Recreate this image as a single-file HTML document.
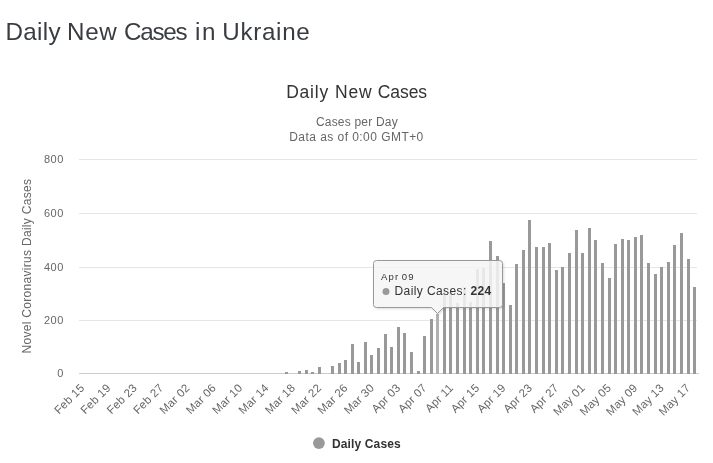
<!DOCTYPE html>
<html><head><meta charset="utf-8"><style>
html,body{margin:0;padding:0;background:#fff;}
body{width:713px;height:463px;overflow:hidden;position:relative;}
svg{position:absolute;left:0;top:0;will-change:transform;}
text{font-family:"Liberation Sans",sans-serif;}
</style></head><body>
<svg width="713" height="463" viewBox="0 0 713 463">
<text x="5.4" y="39.7" font-size="24.2" fill="#393d42" letter-spacing="0.375">Daily</text>
<text x="67.1" y="39.7" font-size="24.2" fill="#393d42" letter-spacing="0.65">New</text>
<text x="124.1" y="39.7" font-size="24.2" fill="#393d42" letter-spacing="-1.25">Cases</text>
<text x="195.1" y="39.7" font-size="24.2" fill="#393d42" letter-spacing="1.5">in</text>
<text x="222.3" y="39.7" font-size="24.2" fill="#393d42" letter-spacing="0.683">Ukraine</text>
<text x="286.2" y="98.0" font-size="17.5" fill="#333" letter-spacing="0.775">Daily</text>
<text x="335.1" y="98.0" font-size="17.5" fill="#333" letter-spacing="0.8">New</text>
<text x="377.8" y="98.0" font-size="17.5" fill="#333" letter-spacing="-0.075">Cases</text>
<text x="356.9" y="126.2" font-size="12" fill="#666" text-anchor="middle" letter-spacing="0.2">Cases per Day</text>
<text x="356.5" y="141.0" font-size="12" fill="#666" text-anchor="middle" letter-spacing="0.45">Data as of 0:00 GMT+0</text>
<g stroke="#e6e6e6" stroke-width="1" shape-rendering="crispEdges">
<line x1="79" y1="159.5" x2="697" y2="159.5"/>
<line x1="79" y1="213.5" x2="697" y2="213.5"/>
<line x1="79" y1="267.5" x2="697" y2="267.5"/>
<line x1="79" y1="320.5" x2="697" y2="320.5"/>
</g>
<g font-size="11" fill="#666" text-anchor="end" letter-spacing="0.5">
<text x="63.8" y="163.0">800</text>
<text x="63.8" y="216.8">600</text>
<text x="63.8" y="270.8">400</text>
<text x="63.8" y="323.8">200</text>
<text x="63.8" y="376.8">0</text>
</g>
<text x="31" y="266.1" font-size="12" fill="#666" text-anchor="middle" letter-spacing="0.3" transform="rotate(-90 31 266.1)">Novel Coronavirus Daily Cases</text>
<line x1="79" y1="373.5" x2="699" y2="373.5" stroke="#ccc" stroke-width="1" shape-rendering="crispEdges"/>
<g fill="#999" shape-rendering="crispEdges">
<rect x="285" y="372" width="3" height="2"/>
<rect x="298" y="371" width="3" height="3"/>
<rect x="305" y="370" width="3" height="4"/>
<rect x="311" y="372" width="3" height="2"/>
<rect x="318" y="367" width="3" height="7"/>
<rect x="331" y="366" width="3" height="8"/>
<rect x="338" y="363" width="3" height="11"/>
<rect x="344" y="360" width="3" height="14"/>
<rect x="351" y="344" width="3" height="30"/>
<rect x="357" y="362" width="3" height="12"/>
<rect x="364" y="342" width="3" height="32"/>
<rect x="370" y="355" width="3" height="19"/>
<rect x="377" y="348" width="3" height="26"/>
<rect x="384" y="334" width="3" height="40"/>
<rect x="390" y="347" width="3" height="27"/>
<rect x="397" y="327" width="3" height="47"/>
<rect x="403" y="333" width="3" height="41"/>
<rect x="410" y="352" width="3" height="22"/>
<rect x="417" y="371" width="3" height="3"/>
<rect x="423" y="336" width="3" height="38"/>
<rect x="430" y="319" width="3" height="55"/>
<rect x="436" y="314" width="3" height="60" fill="#b0b0b0"/>
<rect x="443" y="291" width="3" height="83"/>
<rect x="449" y="292" width="3" height="82"/>
<rect x="456" y="303" width="3" height="71"/>
<rect x="463" y="287" width="3" height="87"/>
<rect x="469" y="302" width="3" height="72"/>
<rect x="476" y="269" width="3" height="105"/>
<rect x="482" y="268" width="3" height="106"/>
<rect x="489" y="241" width="3" height="133"/>
<rect x="496" y="256" width="3" height="118"/>
<rect x="502" y="283" width="3" height="91"/>
<rect x="509" y="305" width="3" height="69"/>
<rect x="515" y="264" width="3" height="110"/>
<rect x="522" y="250" width="3" height="124"/>
<rect x="528" y="220" width="3" height="154"/>
<rect x="535" y="247" width="3" height="127"/>
<rect x="542" y="247" width="3" height="127"/>
<rect x="548" y="243" width="3" height="131"/>
<rect x="555" y="270" width="3" height="104"/>
<rect x="561" y="267" width="3" height="107"/>
<rect x="568" y="253" width="3" height="121"/>
<rect x="575" y="230" width="3" height="144"/>
<rect x="581" y="253" width="3" height="121"/>
<rect x="588" y="228" width="3" height="146"/>
<rect x="594" y="240" width="3" height="134"/>
<rect x="601" y="263" width="3" height="111"/>
<rect x="608" y="278" width="3" height="96"/>
<rect x="614" y="244" width="3" height="130"/>
<rect x="621" y="239" width="3" height="135"/>
<rect x="627" y="240" width="3" height="134"/>
<rect x="634" y="237" width="3" height="137"/>
<rect x="640" y="235" width="3" height="139"/>
<rect x="647" y="263" width="3" height="111"/>
<rect x="654" y="274" width="3" height="100"/>
<rect x="660" y="267" width="3" height="107"/>
<rect x="667" y="262" width="3" height="112"/>
<rect x="673" y="245" width="3" height="129"/>
<rect x="680" y="233" width="3" height="141"/>
<rect x="687" y="259" width="3" height="115"/>
<rect x="693" y="287" width="3" height="87"/>
</g>
<g font-size="11.5" fill="#666" letter-spacing="0.2">
<text x="85.11" y="388.7" text-anchor="end" transform="rotate(-45 85.11 388.7)">Feb 15</text>
<text x="111.45" y="388.7" text-anchor="end" transform="rotate(-45 111.45 388.7)">Feb 19</text>
<text x="137.79" y="388.7" text-anchor="end" transform="rotate(-45 137.79 388.7)">Feb 23</text>
<text x="164.13" y="388.7" text-anchor="end" transform="rotate(-45 164.13 388.7)">Feb 27</text>
<text x="190.47" y="388.7" text-anchor="end" transform="rotate(-45 190.47 388.7)">Mar 02</text>
<text x="216.81" y="388.7" text-anchor="end" transform="rotate(-45 216.81 388.7)">Mar 06</text>
<text x="243.15" y="388.7" text-anchor="end" transform="rotate(-45 243.15 388.7)">Mar 10</text>
<text x="269.49" y="388.7" text-anchor="end" transform="rotate(-45 269.49 388.7)">Mar 14</text>
<text x="295.83" y="388.7" text-anchor="end" transform="rotate(-45 295.83 388.7)">Mar 18</text>
<text x="322.17" y="388.7" text-anchor="end" transform="rotate(-45 322.17 388.7)">Mar 22</text>
<text x="348.51" y="388.7" text-anchor="end" transform="rotate(-45 348.51 388.7)">Mar 26</text>
<text x="374.85" y="388.7" text-anchor="end" transform="rotate(-45 374.85 388.7)">Mar 30</text>
<text x="401.19" y="388.7" text-anchor="end" transform="rotate(-45 401.19 388.7)">Apr 03</text>
<text x="427.53" y="388.7" text-anchor="end" transform="rotate(-45 427.53 388.7)">Apr 07</text>
<text x="453.87" y="388.7" text-anchor="end" transform="rotate(-45 453.87 388.7)">Apr 11</text>
<text x="480.21" y="388.7" text-anchor="end" transform="rotate(-45 480.21 388.7)">Apr 15</text>
<text x="506.55" y="388.7" text-anchor="end" transform="rotate(-45 506.55 388.7)">Apr 19</text>
<text x="532.89" y="388.7" text-anchor="end" transform="rotate(-45 532.89 388.7)">Apr 23</text>
<text x="559.23" y="388.7" text-anchor="end" transform="rotate(-45 559.23 388.7)">Apr 27</text>
<text x="585.57" y="388.7" text-anchor="end" transform="rotate(-45 585.57 388.7)">May 01</text>
<text x="611.91" y="388.7" text-anchor="end" transform="rotate(-45 611.91 388.7)">May 05</text>
<text x="638.25" y="388.7" text-anchor="end" transform="rotate(-45 638.25 388.7)">May 09</text>
<text x="664.59" y="388.7" text-anchor="end" transform="rotate(-45 664.59 388.7)">May 13</text>
<text x="690.93" y="388.7" text-anchor="end" transform="rotate(-45 690.93 388.7)">May 17</text>
</g>
<circle cx="318.9" cy="443.1" r="5.9" fill="#999"/>
<text x="331.9" y="447.7" font-size="12" font-weight="bold" fill="#333" letter-spacing="0.15">Daily Cases</text>
<!-- tooltip -->
<filter id="sh" x="-20%" y="-20%" width="140%" height="150%"><feDropShadow dx="1" dy="1" stdDeviation="1" flood-color="#000" flood-opacity="0.15"/></filter>
<path d="M376.5 260.5 L499.5 260.5 Q502.5 260.5 502.5 263.5 L502.5 304.5 Q502.5 307.5 499.5 307.5 L443.5 307.5 L437.5 313.5 L431.5 307.5 L376.5 307.5 Q373.5 307.5 373.5 304.5 L373.5 263.5 Q373.5 260.5 376.5 260.5 Z" fill="rgba(247,247,247,0.85)" stroke="#999" stroke-width="1" filter="url(#sh)"/>
<text x="381.0" y="279.8" font-size="9.5" fill="#333" letter-spacing="1.25">Apr</text>
<text x="401.7" y="279.8" font-size="9.5" fill="#333" letter-spacing="1.3">09</text>
<circle cx="386" cy="291.5" r="3.5" fill="#999"/>
<text x="394.5" y="295" font-size="12" fill="#333" letter-spacing="0.4">Daily Cases: <tspan font-weight="bold">224</tspan></text>
</svg>
</body></html>
